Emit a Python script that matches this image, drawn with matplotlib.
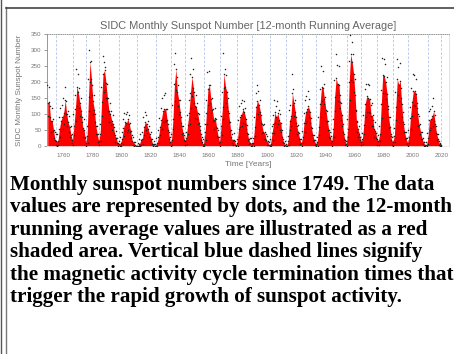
import matplotlib.pyplot as plt
from matplotlib.lines import Line2D
import numpy as np

# yearly sunspot numbers (red area = running average)
years = np.arange(1749, 2020)
running_avg = [
    134.7, 139.0, 79.5, 79.7, 51.2, 20.3, 16.0, 17.0, 54.0, 79.3,
    90.0, 104.8, 143.2, 102.0, 75.2, 60.7, 34.8, 19.0, 63.0, 116.3,
    185.0, 168.0, 136.0, 110.8, 58.0, 51.0, 11.7, 33.0, 154.2, 262.0,
    209.8, 141.3, 113.5, 64.2, 38.0, 17.0, 40.2, 138.2, 225.0, 236.0,
    196.8, 149.8, 111.0, 100.0, 78.2, 68.3, 35.5, 26.7, 10.7, 6.8,
    11.3, 24.2, 56.7, 75.0, 71.8, 85.0, 70.3, 46.8, 16.8, 13.5,
    4.2, 0.0, 2.3, 8.3, 20.3, 23.2, 59.0, 77.0, 68.3, 52.9,
    38.5, 24.2, 9.2, 6.3, 2.2, 11.4, 28.2, 59.9, 83.0, 108.5,
    115.2, 117.4, 80.8, 44.3, 13.4, 19.5, 85.8, 192.7, 240.0, 168.7,
    143.0, 105.5, 63.3, 40.3, 18.1, 25.1, 65.8, 102.7, 166.3, 215.0,
    182.5, 126.3, 122.0, 102.7, 74.1, 39.0, 12.7, 8.2, 43.4, 104.4,
    178.3, 190.0, 146.6, 112.1, 83.5, 89.2, 57.8, 30.7, 13.9, 62.8,
    123.6, 225.0, 185.3, 169.2, 110.1, 74.5, 28.3, 18.9, 20.7, 5.7,
    10.0, 53.7, 90.5, 99.0, 115.0, 105.8, 86.3, 42.4, 21.8, 11.2,
    10.4, 11.8, 59.5, 121.7, 142.0, 130.0, 106.6, 69.4, 43.8, 44.4,
    20.2, 15.7, 4.6, 8.5, 40.8, 70.1, 105.5, 90.1, 102.8, 80.9,
    73.2, 30.9, 9.5, 6.0, 2.4, 16.1, 79.0, 95.0, 165.0, 134.6,
    105.7, 62.7, 43.5, 23.7, 9.7, 27.9, 74.0, 106.5, 114.7, 125.0,
    108.2, 59.4, 35.1, 18.6, 9.2, 14.6, 60.2, 132.8, 185.0, 182.6,
    148.0, 113.0, 79.2, 50.8, 27.1, 16.1, 55.3, 154.3, 212.0, 193.0,
    190.7, 118.9, 98.3, 45.0, 20.1, 6.6, 54.2, 200.7, 285.0, 261.7,
    225.1, 159.0, 76.4, 53.4, 39.9, 15.0, 22.0, 66.8, 132.9, 155.0,
    149.4, 148.0, 94.4, 97.6, 54.1, 49.2, 22.5, 18.4, 39.3, 131.0,
    222.0, 218.9, 198.9, 162.4, 91.0, 60.5, 20.6, 14.8, 33.9, 123.0,
    208.0, 191.8, 203.3, 133.0, 76.1, 44.9, 25.1, 11.6, 28.9, 88.3,
    136.3, 172.0, 170.4, 163.6, 99.3, 65.3, 45.8, 24.7, 12.6, 4.2,
    4.8, 24.9, 80.8, 84.5, 94.0, 110.0, 69.8, 39.8, 21.7, 7.0, 3.6,
]
# highest and lowest monthly dots in each year
monthly_hi = [
    190, 185, 125, 120, 85, 45, 38, 40, 92, 118,
    130, 150, 185, 140, 110, 95, 62, 40, 100, 160,
    240, 225, 180, 150, 90, 85, 30, 62, 210, 300,
    265, 190, 160, 100, 65, 38, 70, 185, 280, 262,
    245, 195, 150, 135, 110, 98, 60, 48, 25, 18,
    28, 45, 85, 105, 100, 108, 98, 72, 35, 30,
    14, 2, 10, 22, 40, 45, 90, 108, 98, 80,
    62, 45, 22, 18, 8, 26, 50, 88, 118, 150,
    158, 165, 115, 70, 30, 40, 130, 255, 290, 215,
    190, 145, 92, 65, 35, 45, 98, 145, 225, 275,
    240, 170, 160, 135, 100, 62, 28, 22, 70, 145,
    230, 235, 190, 150, 115, 120, 85, 52, 30, 95,
    170, 290, 240, 220, 150, 105, 50, 38, 42, 16,
    24, 82, 125, 135, 145, 142, 118, 68, 40, 25,
    25, 26, 90, 165, 190, 172, 145, 98, 68, 70,
    40, 32, 14, 22, 65, 98, 145, 125, 140, 112,
    102, 52, 22, 16, 9, 32, 112, 130, 225, 178,
    145, 90, 68, 42, 22, 48, 105, 145, 155, 172,
    148, 88, 58, 35, 20, 30, 90, 178, 248, 235,
    195, 152, 110, 78, 46, 32, 85, 205, 285, 252,
    250, 160, 135, 70, 38, 18, 85, 265, 345, 325,
    285, 210, 110, 80, 62, 30, 42, 98, 178, 195,
    195, 192, 130, 135, 82, 76, 42, 36, 65, 175,
    275, 272, 255, 215, 125, 90, 40, 30, 58, 168,
    270, 245, 260, 180, 108, 70, 44, 26, 52, 122,
    180, 225, 220, 210, 135, 95, 70, 45, 26, 14,
    14, 42, 110, 115, 125, 150, 98, 62, 38, 18, 12,
]
monthly_lo = [
    95, 92, 45, 48, 25, 6, 3, 4, 28, 48,
    55, 70, 100, 65, 45, 30, 12, 5, 35, 80,
    125, 118, 95, 75, 30, 25, 2, 12, 110, 200,
    160, 100, 75, 38, 15, 4, 18, 95, 170, 175,
    150, 110, 75, 68, 50, 42, 15, 10, 2, 0,
    2, 8, 32, 48, 45, 52, 45, 25, 4, 3,
    0, 0, 0, 0, 6, 8, 35, 50, 42, 30,
    18, 8, 1, 0, 0, 2, 10, 35, 55, 75,
    80, 80, 52, 22, 3, 6, 55, 140, 175, 125,
    100, 72, 38, 20, 6, 9, 40, 70, 120, 155,
    135, 88, 85, 70, 50, 20, 3, 1, 20, 70,
    130, 135, 105, 78, 55, 60, 32, 12, 3, 35,
    85, 180, 135, 122, 75, 48, 10, 5, 6, 0,
    1, 28, 60, 65, 72, 70, 55, 20, 7, 2,
    2, 2, 32, 85, 100, 92, 72, 42, 22, 22,
    6, 4, 0, 1, 20, 42, 72, 60, 70, 52,
    46, 14, 2, 0, 0, 4, 50, 65, 128, 95,
    72, 38, 22, 8, 1, 10, 46, 72, 78, 90,
    72, 35, 16, 5, 1, 3, 35, 92, 140, 132,
    105, 78, 50, 28, 10, 3, 30, 110, 160, 140,
    138, 82, 65, 22, 5, 0, 28, 145, 205, 200,
    170, 112, 46, 30, 20, 4, 7, 38, 92, 108,
    108, 105, 62, 62, 30, 26, 6, 4, 18, 88,
    165, 165, 148, 115, 58, 32, 6, 3, 14, 82,
    158, 140, 150, 92, 46, 22, 8, 1, 10, 55,
    95, 128, 125, 120, 65, 38, 24, 8, 2, 0,
    0, 8, 52, 58, 64, 80, 42, 20, 6, 1, 0,
]
# cycle termination times (blue dashed)
terminators = [1755.5, 1766.8, 1776.0, 1785.0, 1798.5, 1811.0, 1823.5, 1834.0,
               1844.0, 1856.5, 1867.8, 1879.5, 1890.0, 1902.0, 1913.0, 1924.0,
               1933.8, 1944.0, 1955.0, 1964.8, 1975.5, 1986.5, 1996.8, 2010.5, 2019.5]
yticks = [0, 50, 100, 150, 200, 250, 300, 350]
xticks = [1760, 1780, 1800, 1820, 1840, 1860, 1880, 1900, 1920, 1940, 1960, 1980, 2000, 2020]

title = "SIDC Monthly Sunspot Number [12-month Running Average]"
caption = ("Monthly sunspot numbers since 1749. The data\n"
           "values are represented by dots, and the 12-month\n"
           "running average values are illustrated as a red\n"
           "shaded area. Vertical blue dashed lines signify\n"
           "the magnetic activity cycle termination times that\n"
           "trigger the rapid growth of sunspot activity.")

W, H = 454, 354
fig = plt.figure(figsize=(W / 100, H / 100), dpi=100)

# page frame lines
fig.add_artist(Line2D([0.8 / W, 0.8 / W], [0, 1], color='#555555', lw=1.0))
fig.add_artist(Line2D([5.8 / W, 5.8 / W], [0, 1 - 7 / H], color='#777777', lw=1.0))
fig.add_artist(Line2D([5.8 / W, 1], [1 - 7.5 / H, 1 - 7.5 / H], color='#444444', lw=1.2))

ax = fig.add_axes([47 / W, 1 - 146.5 / H, 402 / W, 113 / H])
t = years + 0.5
for tt in terminators:
    ax.axvline(tt, color='#b3c2e4', ls=(0, (3, 2)), lw=0.6, zorder=1)
ax.fill_between(t, running_avg, color='#ff0000', lw=0, zorder=2)
ax.scatter(years + 0.15, monthly_hi, s=1.2, c='#222222', lw=0, zorder=3)
ax.scatter(t, running_avg, s=1.2, c='#222222', lw=0, zorder=3)
ax.scatter(years + 0.85, monthly_lo, s=1.2, c='#222222', lw=0, zorder=3)

ax.set_xlim(1749, 2025)
ax.set_ylim(0, 350)
ax.set_yticks(yticks)
ax.set_xticks(xticks)
ax.tick_params(axis='both', labelsize=4.5, colors='#777777', length=2, width=0.5, pad=2)
ax.tick_params(axis='x', length=0, pad=5)
for lab in ax.get_xticklabels() + ax.get_yticklabels():
    lab.set_family('Liberation Sans')
ax.spines['top'].set_linestyle(':')
ax.spines['top'].set_color('#888888')
ax.spines['left'].set_color('#888888')
ax.spines['right'].set_color('#dddddd')
ax.spines['bottom'].set_color('#eeeeee')
for s in ax.spines.values():
    s.set_linewidth(0.6)

ax.set_title(title, fontsize=7.9, color='#666666', family='Liberation Sans', pad=3)
ax.set_ylabel('SIDC Monthly Sunspot Number', fontsize=5.8, color='#777777',
              family='Liberation Sans', labelpad=6)
ax.set_xlabel('Time [Years]', fontsize=6, color='#777777', family='Liberation Sans', labelpad=2)

fig.text(10 / W, 1 - 175 / H, caption, ha='left', va='top', fontsize=15.2,
         family='Liberation Serif', weight='bold', color='black', linespacing=1.16)

plt.savefig('out.png', dpi=100)
